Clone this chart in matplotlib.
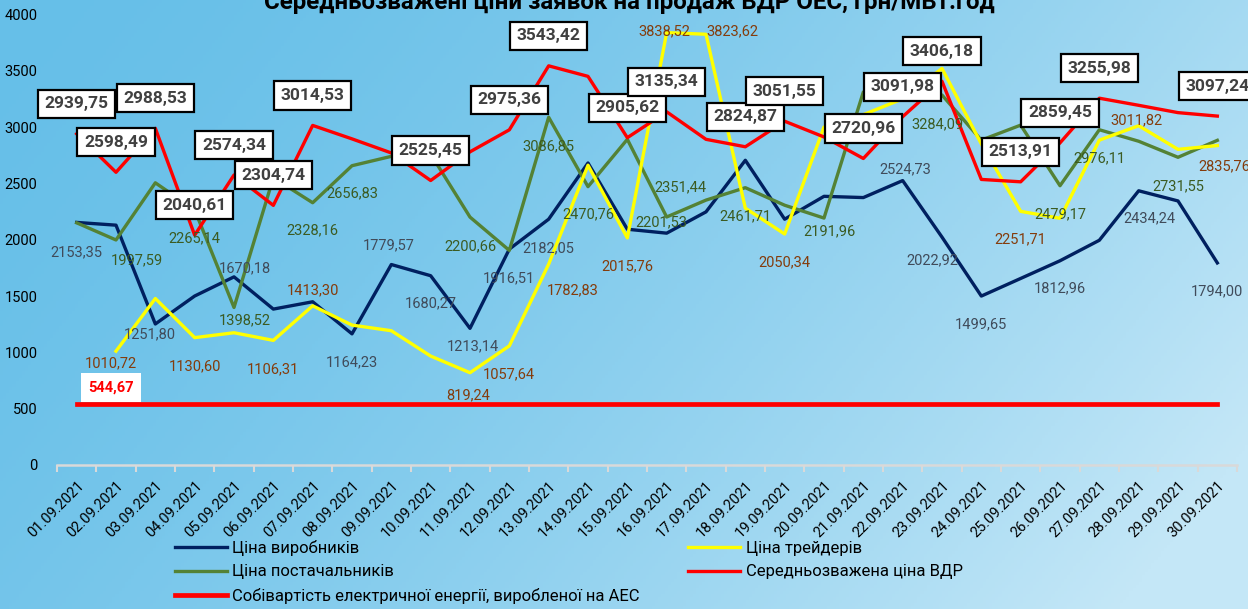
import numpy as np
import matplotlib
matplotlib.use('Agg')
import matplotlib.pyplot as plt

plt.rcParams['font.family'] = ['Roboto', 'DejaVu Sans']

title = 'Середньозважені ціни заявок на продаж ВДР ОЕС, грн/МВт.год'
dates = [f'{d:02d}.09.2021' for d in range(1, 31)]

producers = [2153.35, 2129, 1251.80, 1500, 1670.18, 1384, 1449, 1164.23, 1779.57, 1680.27,
             1213.14, 1916.51, 2182.05, 2681, 2093, 2058, 2247, 2705, 2182, 2385,
             2374, 2524.73, 2022.92, 1499.65, 1656, 1812.96, 1995, 2434.24, 2344, 1794.00]
traders = [np.nan, 1010.72, 1478, 1130.60, 1174, 1106.31, 1413.30, 1242, 1192, 967,
           819.24, 1057.64, 1782.83, 2661, 2015.76, 3838.52, 3823.62, 2280, 2050.34, 3000,
           3110, 3250, 3520, 2850, 2251.71, 2190, 2884, 3011.82, 2802, 2835.76]
suppliers = [2150, 1997.59, 2505, 2265.14, 1398.52, 2550, 2328.16, 2656.83, 2740, 2760,
             2200.66, 1905, 3086.85, 2470.76, 2891, 2201.53, 2351.44, 2461.71, 2306, 2191.96,
             3311, 3300, 3284.09, 2884, 3017, 2479.17, 2976.11, 2874, 2731.55, 2882]
weighted = [2939.75, 2598.49, 2988.53, 2040.61, 2574.34, 2304.74, 3014.53, 2895, 2770, 2525.45,
            2780, 2975.36, 3543.42, 3450, 2905.62, 3135.34, 2891, 2824.87, 3051.55, 2912,
            2720.96, 3091.98, 3406.18, 2535, 2513.91, 2859.45, 3255.98, 3193, 3128, 3097.24]
npp_cost = 544.67

names = ['Ціна виробників', 'Ціна трейдерів', 'Ціна постачальників',
         'Середньозважена ціна ВДР', 'Собівартість електричної енергії, виробленої на АЕС']

# labelled days (1-based) -> label offset from the point, in pixels
producer_labels = {1: (0, -30), 3: (-6, -10), 5: (11, 9), 8: (0, -28), 9: (-3, 19),
                   10: (0, -28), 11: (3, -18), 12: (0, -29), 13: (0, -29), 22: (3, 11),
                   23: (-10, -23), 24: (0, -28), 26: (0, -28), 28: (11, -28), 30: (0, -28)}
supplier_labels = {2: (21, -20), 4: (0, -28), 5: (11, -13), 7: (0, -28), 8: (0, -28),
                   11: (0, -29), 13: (0, -29), 14: (0, -28), 16: (-5, -5), 17: (-26, 13),
                   18: (0, -29), 20: (6, -13), 23: (-5, -29), 26: (0, -29), 27: (0, -29),
                   29: (0, -29)}
trader_labels = {2: (-5, -12), 4: (0, -29), 6: (0, -29), 7: (0, 15), 11: (-2, -23),
                 12: (0, -28), 13: (24, -26), 15: (0, -28), 16: (-2, 1), 17: (26, 3),
                 19: (0, -28), 25: (0, -28), 28: (-2, 5), 30: (7, -21)}
weighted_boxed = [1, 2, 3, 4, 5, 6, 7, 10, 12, 13, 15, 16, 18, 19, 21, 22, 23, 25, 26, 27, 30]


def fmt(v):
    return f'{v:.2f}'.replace('.', ',')


fig = plt.figure(figsize=(12.48, 6.09), dpi=100)

# background gradient
bg = fig.add_axes([0, 0, 1, 1], zorder=-10)
h, w = 200, 400
xx, yy = np.meshgrid(np.linspace(0, 1, w), np.linspace(0, 1, h))
t = np.clip(0.78 * xx + 0.3 * yy, 0, 1) ** 1.6
c0 = np.array([102, 191, 232]) / 255
c1 = np.array([196, 231, 247]) / 255
img = c0[None, None, :] + t[..., None] * (c1 - c0)[None, None, :]
bg.imshow(img, aspect='auto', extent=(0, 1, 0, 1), origin='upper')
bg.axis('off')

ax = fig.add_axes([57 / 1248, 144 / 609, 1180 / 1248, 450.6 / 609])
ax.patch.set_alpha(0)
x = np.arange(len(dates))

l1, = ax.plot(x, producers, color='#002060', lw=2.4, zorder=3)
l3, = ax.plot(x, suppliers, color='#548235', lw=2.4, zorder=4)
l2, = ax.plot(x, traders, color='#FFFF00', lw=2.4, zorder=5)
l4, = ax.plot(x, weighted, color='#FF0000', lw=2.4, zorder=6)
l5, = ax.plot(x, np.full(len(x), npp_cost), color='#FF0000', lw=3.4, zorder=6)

for series, labels, col in [(producers, producer_labels, '#404B5A'),
                            (suppliers, supplier_labels, '#3B5B22'),
                            (traders, trader_labels, '#843C0C')]:
    for day, (dx, dy) in labels.items():
        v = series[day - 1]
        ax.annotate(fmt(v), (day - 1, v), xytext=(dx, dy), textcoords='offset pixels',
                    ha='center', va='center', fontsize=10.5, color=col, zorder=10,
                    annotation_clip=False)

for day in weighted_boxed:
    v = weighted[day - 1]
    ax.annotate(fmt(v), (day - 1, v), xytext=(0, 30), textcoords='offset pixels',
                ha='center', va='center', fontsize=12.5, fontweight='bold', color='#404040',
                bbox=dict(boxstyle='square,pad=0.38', fc='white', ec='black', lw=1.6),
                zorder=12, annotation_clip=False)

ax.annotate(fmt(npp_cost), (1, npp_cost), xytext=(-5, 16), textcoords='offset pixels',
            ha='center', va='center', fontsize=10.5, fontweight='bold', color='#FF0000',
            bbox=dict(boxstyle='square,pad=0.5', fc='white', ec='none'), zorder=12)

ax.set_xlim(-0.5, len(dates) - 0.5)
ax.set_ylim(0, 4000)
ax.set_yticks(np.arange(0, 4001, 500))
ax.tick_params(axis='y', length=0, pad=14, labelsize=10.5)
ax.set_xticks(x)
ax.set_xticklabels(dates, rotation=45, ha='right', va='top', rotation_mode='anchor', fontsize=10.5)
ax.set_xticks(np.arange(-0.5, len(dates), 1), minor=True)
ax.tick_params(axis='x', which='major', length=0, pad=10)
ax.tick_params(axis='x', which='minor', length=5, width=1.5, color='#D9D9D9')
for s in ['top', 'right', 'left']:
    ax.spines[s].set_visible(False)
ax.spines['bottom'].set_color('#D9D9D9')
ax.spines['bottom'].set_linewidth(1.8)

fig.text(0.504, 1 - 9 / 609, title, ha='center', va='baseline', fontsize=17.4, fontweight='bold')

fig.legend([l1, l3, l5, l2, l4], [names[0], names[2], names[4], names[1], names[3]],
           ncol=2, loc='upper left', bbox_to_anchor=(175 / 1248, 1 - 540 / 609),
           frameon=False, fontsize=12, handlelength=3.1, handletextpad=0.35,
           labelspacing=0.5, columnspacing=2.9, borderpad=0, borderaxespad=0)

fig.savefig('out.png', dpi=100)
